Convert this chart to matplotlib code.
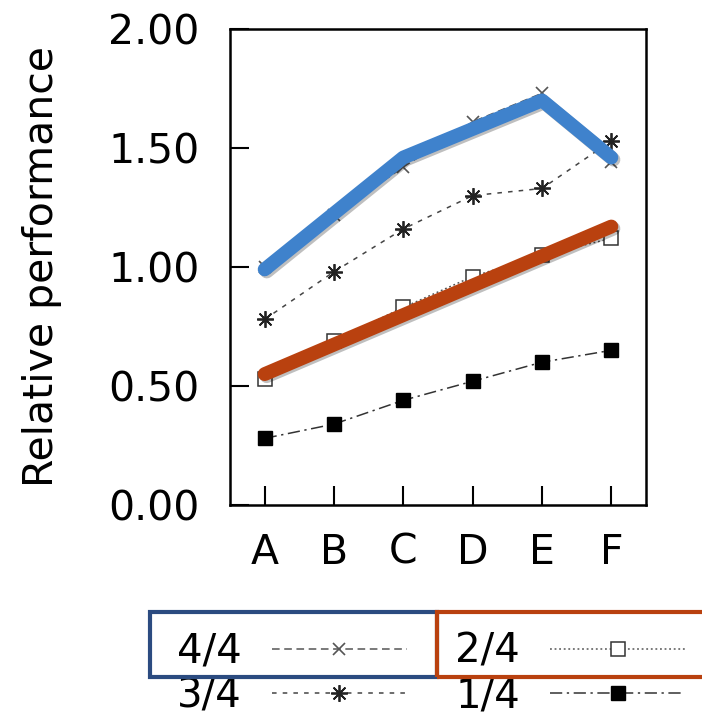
import matplotlib
matplotlib.use("Agg")
import matplotlib.pyplot as plt
import matplotlib.patheffects as pe
from matplotlib.patches import Rectangle
import numpy as np

plt.rcParams['font.family'] = ['DejaVu Sans']
plt.rcParams['xtick.direction'] = 'in'
plt.rcParams['ytick.direction'] = 'in'

categories = ["A", "B", "C", "D", "E", "F"]
s44 = [1.00, 1.22, 1.42, 1.61, 1.73, 1.44]
s34 = [0.78, 0.98, 1.16, 1.30, 1.33, 1.53]
s24 = [0.53, 0.69, 0.83, 0.96, 1.05, 1.12]
s14 = [0.28, 0.34, 0.44, 0.52, 0.60, 0.65]
# highlight overlays
blue_cats = ["A", "C", "E", "F"]
blue_vals = [0.99, 1.46, 1.70, 1.46]
red_cats = ["A", "F"]
red_vals = [0.55, 1.17]
yticks = [0.0, 0.5, 1.0, 1.5, 2.0]
ytick_labels = ["0.00", "0.50", "1.00", "1.50", "2.00"]

W, H = 702, 716
fig = plt.figure(figsize=(W/100, H/100), dpi=100)
ax = fig.add_axes([230/W, 1-505/H, (646-230)/W, (505-29)/H])

x = np.arange(len(categories))
idx = {c: i for i, c in enumerate(categories)}

FS = 29.5
ax.plot(x, s44, linestyle=(0, (5, 3)), color='#555555', lw=1.1,
        marker='x', markersize=9, markeredgewidth=1.2, markeredgecolor='#555555', label='4/4', zorder=3)
ax.plot(x, s34, linestyle=(0, (3, 4)), color='#444444', lw=1.1,
        marker=(8, 2, 0), markersize=12, markeredgewidth=1.3, markeredgecolor='#222222', label='3/4', zorder=3)
ax.plot(x, s24, linestyle=(0, (1.2, 1.8)), color='#555555', lw=1.1,
        marker='s', markersize=10, markerfacecolor='white', markeredgecolor='#333333', markeredgewidth=1.1, label='2/4', zorder=3)
ax.plot(x, s14, linestyle=(0, (8, 3, 1.5, 3)), color='#333333', lw=1.1,
        marker='s', markersize=10, markerfacecolor='black', markeredgecolor='black', label='1/4', zorder=3)

shadow = [pe.SimpleLineShadow(offset=(1.5, -1.5), shadow_color='black', alpha=0.25), pe.Normal()]
ax.plot([idx[c] for c in blue_cats], blue_vals, color='#3f82cc', lw=10,
        solid_capstyle='round', solid_joinstyle='round', zorder=5, path_effects=shadow)
ax.plot([idx[c] for c in red_cats], red_vals, color='#b9410f', lw=10,
        solid_capstyle='round', zorder=5, path_effects=shadow)

ax.set_xlim(-0.5, 5.5)
ax.set_ylim(0, 2)
ax.set_xticks(x)
ax.set_xticklabels(categories)
ax.set_yticks(yticks)
ax.set_yticklabels(ytick_labels)
ax.tick_params(axis='y', direction='in', length=14, width=1.5, labelsize=FS, pad=22, right=False)
ax.tick_params(axis='x', direction='in', length=14, width=1.5, labelsize=FS, pad=20, top=False)
for sp in ax.spines.values():
    sp.set_linewidth(1.8)
ax.set_ylabel("Relative performance", fontsize=FS)
ax.yaxis.set_label_coords(-0.404, 0.5)

handles, labels = ax.get_legend_handles_labels()
leg = fig.legend(handles, labels, loc='upper left', bbox_to_anchor=(177/W, 1-632/H),
                 ncol=2, markerfirst=False, frameon=False, fontsize=29, numpoints=1,
                 handlelength=3.35, handletextpad=0.75, columnspacing=1.2, labelspacing=0.1,
                 borderpad=0, borderaxespad=0)

fig.patches.append(Rectangle((150/W, 1-677/H), (437-150)/W, (677-612)/H, transform=fig.transFigure,
                             fill=False, edgecolor='#2b4b80', lw=3, zorder=10))
fig.patches.append(Rectangle((437/W, 1-677/H), (720-437)/W, (677-612)/H, transform=fig.transFigure,
                             fill=False, edgecolor='#b9410f', lw=3, zorder=10, clip_on=False))

fig.savefig("out.png", dpi=100)
